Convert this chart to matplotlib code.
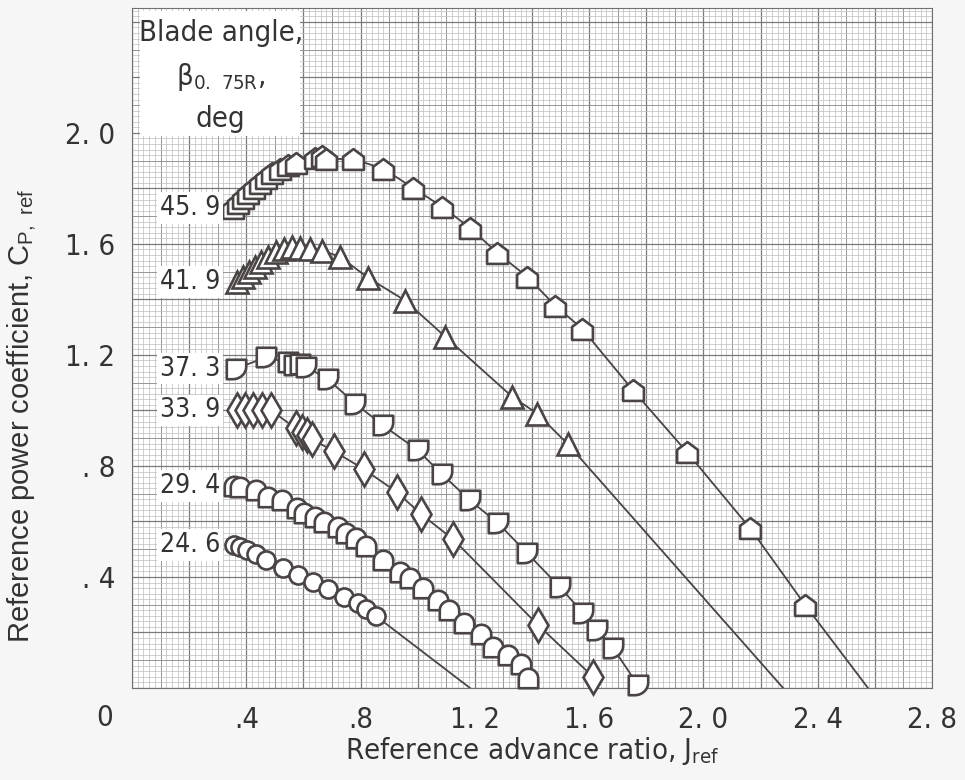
import numpy as np
import matplotlib
matplotlib.use('Agg')
import matplotlib.pyplot as plt
from matplotlib.path import Path
from matplotlib.patches import Rectangle
from matplotlib import font_manager

# blade angle 45.9 deg
j_459 = [0.354, 0.371, 0.389, 0.406, 0.427, 0.448, 0.469, 0.490, 0.518, 0.546, 0.574,
         0.641, 0.665, 0.679, 0.774, 0.879, 0.984, 1.085, 1.183, 1.278, 1.383, 1.481,
         1.575, 1.754, 1.943, 2.163, 2.356]
cp_459 = [1.730, 1.748, 1.766, 1.784, 1.802, 1.820, 1.838, 1.856, 1.871, 1.885, 1.892,
          1.910, 1.917, 1.906, 1.906, 1.871, 1.802, 1.734, 1.658, 1.568, 1.482, 1.378,
          1.295, 1.072, 0.849, 0.576, 0.299]
jend_459 = 2.576

# blade angle 41.9 deg
j_419 = [0.367, 0.389, 0.410, 0.431, 0.452, 0.476, 0.504, 0.532, 0.560, 0.588, 0.623,
         0.665, 0.728, 0.826, 0.956, 1.096, 1.330, 1.418, 1.526]
cp_419 = [1.464, 1.482, 1.500, 1.518, 1.536, 1.554, 1.572, 1.583, 1.590, 1.586, 1.583,
          1.576, 1.554, 1.478, 1.396, 1.266, 1.050, 0.989, 0.878]
jend_419 = 2.279

# blade angle 37.3 deg
j_373 = [0.364, 0.469, 0.546, 0.567, 0.588, 0.609, 0.686, 0.781, 0.879, 1.001, 1.085,
         1.183, 1.281, 1.383, 1.498, 1.579, 1.628, 1.684, 1.771]
cp_373 = [1.151, 1.191, 1.173, 1.162, 1.169, 1.158, 1.112, 1.025, 0.946, 0.856, 0.770,
          0.676, 0.594, 0.486, 0.363, 0.270, 0.209, 0.144, 0.010]
jend_373 = 1.776

# blade angle 33.9 deg
j_339 = [0.367, 0.396, 0.424, 0.455, 0.487, 0.574, 0.595, 0.613, 0.630, 0.707, 0.812,
         0.928, 1.012, 1.124, 1.421, 1.614]
cp_339 = [1.000, 1.000, 1.000, 1.000, 1.000, 0.935, 0.924, 0.910, 0.896, 0.853, 0.788,
          0.705, 0.626, 0.536, 0.227, 0.040]
jend_339 = 1.628

# blade angle 29.4 deg
j_294 = [0.357, 0.378, 0.434, 0.476, 0.525, 0.578, 0.602, 0.641, 0.672, 0.721, 0.749,
         0.784, 0.819, 0.879, 0.938, 0.973, 1.019, 1.071, 1.110, 1.162, 1.222, 1.264,
         1.316, 1.362, 1.386]
cp_294 = [0.727, 0.723, 0.712, 0.687, 0.676, 0.647, 0.629, 0.615, 0.597, 0.579, 0.558,
          0.540, 0.511, 0.460, 0.417, 0.396, 0.360, 0.317, 0.281, 0.234, 0.194, 0.147,
          0.119, 0.086, 0.036]
jend_294 = 1.395

# blade angle 24.6 deg
j_246 = [0.357, 0.378, 0.403, 0.434, 0.469, 0.529, 0.581, 0.634, 0.686, 0.742, 0.791,
         0.819, 0.854]
cp_246 = [0.514, 0.507, 0.496, 0.482, 0.460, 0.432, 0.406, 0.381, 0.356, 0.327, 0.306,
          0.284, 0.259]
jend_246 = 1.183

angle_labels = ['45. 9', '41. 9', '37. 3', '33. 9', '29. 4', '24. 6']
x_ticks = [0.4, 0.8, 1.2, 1.6, 2.0, 2.4, 2.8]
x_ticklabels = ['.4', '.8', '1. 2', '1. 6', '2. 0', '2. 4', '2. 8']
y_ticks = [0.4, 0.8, 1.2, 1.6, 2.0]
y_ticklabels = ['. 4', '. 8', '1. 2', '1. 6', '2. 0']

ink = '#4a4444'
txt = '#333333'
# condensed face for the lettering
cond = font_manager.FontProperties(family='DejaVu Sans', stretch='condensed')


def nf(size):
    p = cond.copy()
    p.set_size(size)
    return p


# symbol shapes
house = Path([(-1, -1), (1, -1), (1, 0.25), (0, 1), (-1, 0.25), (-1, -1)], closed=True)
t = np.linspace(0, -np.pi / 2, 20)
flag_dn = Path([(-1, -1), (-1, 1), (1, 1), (1, 0.3)]
               + list(zip(-0.4 + 1.4 * np.cos(t), 0.3 + 1.3 * np.sin(t)))
               + [(-1, -1)], closed=True)
t2 = np.linspace(0, np.pi, 30)
arch = Path([(-1, -1), (1, -1), (1, 0)] + list(zip(np.cos(t2), np.sin(t2))) + [(-1, -1)],
            closed=True)

series = [
    (j_459, cp_459, jend_459, house, 15),
    (j_419, cp_419, jend_419, '^', 16),
    (j_373, cp_373, jend_373, flag_dn, 14),
    (j_339, cp_339, jend_339, 'd', 17),
    (j_294, cp_294, jend_294, arch, 14),
    (j_246, cp_246, jend_246, 'o', 13),
]

fig = plt.figure(figsize=(9.65, 7.8), dpi=100)
fig.patch.set_facecolor('#f6f6f6')
ax = fig.add_axes([132 / 965, 92 / 780, 800 / 965, 680 / 780])
ax.set_xlim(0, 2.8)
ax.set_ylim(0, 2.45)

# graph paper
def paper_style(v):
    k = int(round(v / 0.02))
    if k % 10 == 0:
        return '#7a7a7a', 0.9
    if k % 5 == 0:
        return '#969696', 0.7
    return '#bdbdbd', 0.5

for v in np.arange(0, 2.801, 0.02):
    c, lw = paper_style(v)
    ax.axvline(v, color=c, lw=lw, zorder=0)
for v in np.arange(0, 2.451, 0.02):
    c, lw = paper_style(v)
    ax.axhline(v, color=c, lw=lw, zorder=0)

for j, cp, jend, mk, ms in series:
    ax.plot(list(j) + [jend], list(cp) + [0.0], color=ink, lw=1.3, zorder=2)
    ax.plot(j, cp, ls='none', marker=mk, ms=ms, mfc='white', mec=ink, mew=1.9,
            zorder=3, clip_on=False)

first_cp = [cp_459[0], cp_419[0], cp_373[0], cp_339[0], cp_294[0], cp_246[0]]
for lab, cp in zip(angle_labels, first_cp):
    ax.text(0.203, cp, lab, ha='center', va='center', fontproperties=nf(19),
            color=txt, zorder=4, bbox=dict(facecolor='white', edgecolor='none', pad=2))

ax.add_patch(Rectangle((0.028, 1.99), 0.56, 0.45, facecolor='white', edgecolor='none', zorder=4))
ax.text(0.31, 2.36, 'Blade angle,', ha='center', va='center', fontproperties=nf(21),
        color=txt, zorder=5)
ax.text(0.31, 2.2, r'$\mathregular{\beta_{0.\ 75R}}$,', ha='center', va='center',
        fontproperties=nf(21), color=txt, zorder=5)
ax.text(0.31, 2.05, 'deg', ha='center', va='center', fontproperties=nf(21),
        color=txt, zorder=5)

ax.set_xticks(x_ticks, x_ticklabels)
ax.set_yticks(y_ticks, y_ticklabels)
for lab in ax.get_xticklabels() + ax.get_yticklabels():
    lab.set_fontproperties(nf(21))
    lab.set_color(txt)
ax.tick_params(length=0)
ax.tick_params(axis='x', pad=13)
ax.tick_params(axis='y', pad=12)
ax.text(-0.095, -0.108, '0', ha='center', va='center', fontproperties=nf(21),
        color=txt, clip_on=False)
for s in ax.spines.values():
    s.set_color('#707070')

ax.set_xlabel(r'Reference advance ratio, $\mathregular{J_{ref}}$', fontproperties=nf(21),
              color=txt, labelpad=1)
ax.set_ylabel(r'Reference power coefficient, $\mathregular{C_{P,\ ref}}$', fontsize=21,
              family=['Liberation Sans', 'DejaVu Sans'], color=txt)
ax.yaxis.set_label_coords(-0.117, 0.40)

fig.savefig('out.png', dpi=100, facecolor=fig.get_facecolor())
